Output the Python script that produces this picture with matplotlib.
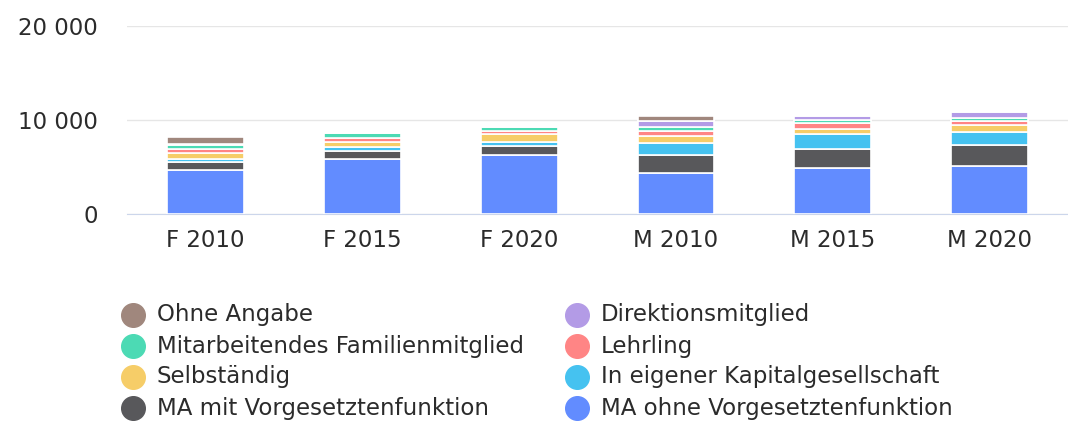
import matplotlib.pyplot as plt
from matplotlib.lines import Line2D
import numpy as np

plt.rcParams['font.family'] = ['DejaVu Sans']

categories = ['F 2010', 'F 2015', 'F 2020', 'M 2010', 'M 2015', 'M 2020']

# stacked from bottom to top
ma_ohne = [4680, 5860, 6260, 4320, 4930, 5140]
ma_mit = [820, 790, 1000, 1970, 1970, 2150]
kapital = [390, 430, 430, 1220, 1570, 1400]
selbst = [610, 570, 780, 750, 620, 750]
lehrling = [400, 390, 400, 610, 570, 400]
familie = [390, 580, 400, 400, 390, 400]
direktion = [150, 0, 0, 570, 400, 600]
ohne_angabe = [800, 0, 0, 570, 0, 0]

series = [
    ('MA ohne Vorgesetztenfunktion', ma_ohne, '#628cff'),
    ('MA mit Vorgesetztenfunktion', ma_mit, '#58585b'),
    ('In eigener Kapitalgesellschaft', kapital, '#45c2f0'),
    ('Selbständig', selbst, '#f6cd68'),
    ('Lehrling', lehrling, '#ff8585'),
    ('Mitarbeitendes Familienmitglied', familie, '#4cdab4'),
    ('Direktionsmitglied', direktion, '#b39be6'),
    ('Ohne Angabe', ohne_angabe, '#a0877d'),
]

fig = plt.figure(figsize=(10.68, 4.21), dpi=100)
ax = fig.add_axes([0.119, 0.492, 0.881, 0.446])

x = np.arange(len(categories))
bottom = np.zeros(len(categories))
for name, vals, col in series:
    vals = np.array(vals, dtype=float)
    ax.bar(x, vals, bottom=bottom, width=0.49, color=col,
           edgecolor='white', linewidth=1.2, zorder=3)
    bottom += vals

ax.set_xlim(-0.5, len(categories) - 0.5)
ax.set_ylim(0, 20000)
ax.set_yticks([0, 10000, 20000])
ax.set_yticklabels(['0', '10 000', '20 000'])
ax.set_xticks(x)
ax.set_xticklabels(categories)
ax.tick_params(axis='both', length=0, labelsize=16.5, colors='#2b2b2b')
ax.tick_params(axis='y', pad=21)
ax.tick_params(axis='x', pad=11)
ax.grid(axis='y', color='#e6e6e6', linewidth=1, zorder=0)
for s in ['top', 'right', 'left']:
    ax.spines[s].set_visible(False)
ax.spines['bottom'].set_color('#ccd6eb')

# legend: two columns, top to bottom in reverse stack order
rev = series[::-1]
col_x = [133 / 1068, 577 / 1068]
row_y = [315, 346, 377, 408]
for i, (name, vals, col) in enumerate(rev):
    cx = col_x[i % 2]
    cy = 1 - row_y[i // 2] / 421
    fig.lines.append(Line2D([cx], [cy], marker='o', markersize=17,
                            color=col, linestyle='none',
                            transform=fig.transFigure, figure=fig))
    fig.text(cx + 24 / 1068, cy, name, fontsize=16.5, color='#2b2b2b',
             va='center', ha='left')

fig.savefig('out.png', dpi=100, facecolor='white')
